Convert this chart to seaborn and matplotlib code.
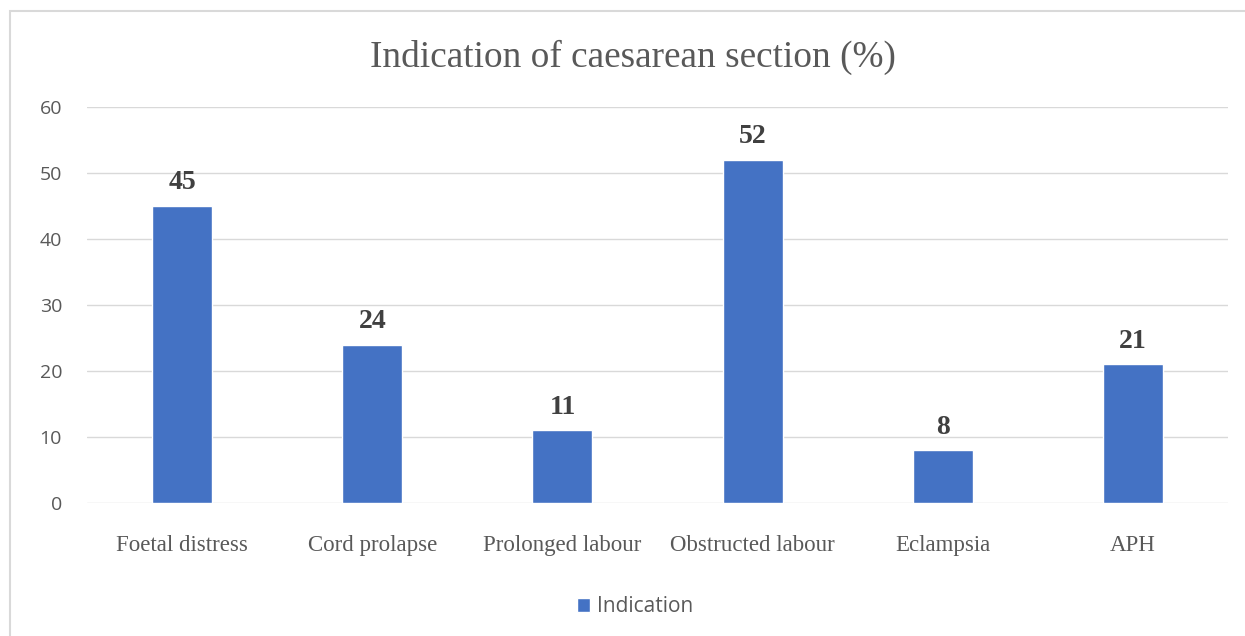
import pandas as pd
import matplotlib.pyplot as plt
import seaborn as sns
from matplotlib.patches import Rectangle, Patch

# Data
categories = ["Foetal distress", "Cord prolapse", "Prolonged labour",
              "Obstructed labour", "Eclampsia", "APH"]
values = [45, 24, 11, 52, 8, 21]
y_ticks = [0, 10, 20, 30, 40, 50, 60]

df = pd.DataFrame({"Indication": categories, "Percent": values})

sns.set_style("white")
plt.rcParams['font.family'] = ['Liberation Serif', 'DejaVu Sans']

fig = plt.figure(figsize=(12.45, 6.36), dpi=100)
ax = fig.add_axes([0.0699, 0.2091, 0.9164, 0.6227])

bar_color = "#4472C4"
sns.barplot(data=df, x="Indication", y="Percent", color=bar_color,
            width=0.315, saturation=1, ax=ax)

# value labels
for i, v in enumerate(values):
    ax.text(i, v + 3.5, str(v), ha="center", va="center",
            fontsize=20, fontweight="bold", color="#404040",
            family="Liberation Serif")

ax.set_ylim(0, 60)
ax.set_xlim(-0.5, len(categories) - 0.5)
ax.set_yticks(y_ticks)
ax.set_yticklabels([str(t) for t in y_ticks], family="Open Sans",
                   fontsize=14, color="#595959")
ax.tick_params(axis="x", labelsize=16.5, labelcolor="#595959", length=0, pad=23)
ax.tick_params(axis="y", length=0, pad=18)
ax.set_xlabel("")
ax.set_ylabel("")
ax.grid(axis="y", color="#d9d9d9", linewidth=1)
ax.set_axisbelow(True)
for s in ax.spines.values():
    s.set_visible(False)

fig.text(0.508, 0.91, "Indication of caesarean section (%)", ha="center",
         va="center", fontsize=26.8, color="#595959", family="Liberation Serif")

# legend below the plot
fig.legend(handles=[Patch(facecolor=bar_color, label="Indication")],
           loc="center", bbox_to_anchor=(0.51, 0.046), frameon=False,
           prop={"family": "Open Sans", "size": 15}, labelcolor="#595959",
           handlelength=0.65, handleheight=0.65, handletextpad=0.3)

# light chart frame, cut off at right and bottom
fig.patches.append(Rectangle((10 / 1245, -0.05), 1.1, 1 - 11 / 636 + 0.05,
                             transform=fig.transFigure, fill=False,
                             edgecolor="#d9d9d9", linewidth=1.5))

fig.savefig("out.png", dpi=100)
